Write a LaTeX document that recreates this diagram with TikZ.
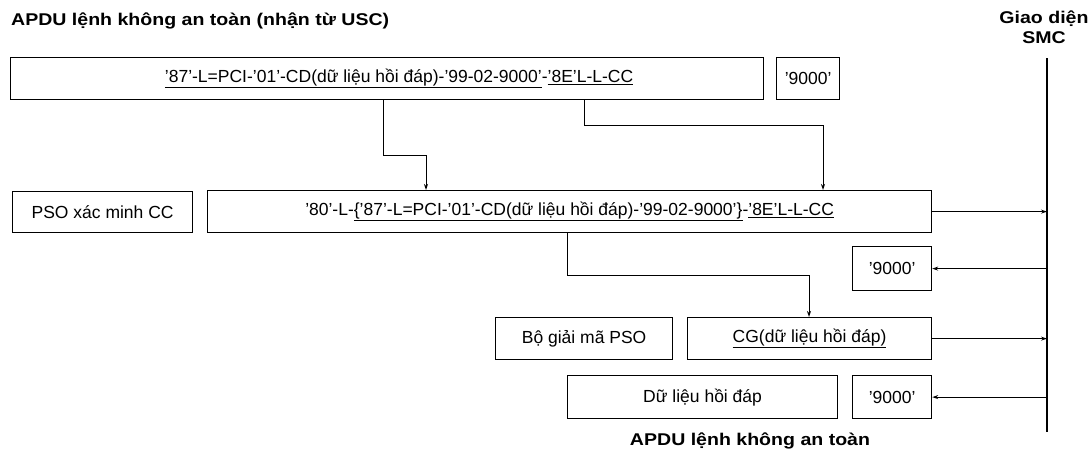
\documentclass[tikz,border=0pt]{standalone}
\usepackage{fontspec}
\setmainfont{Liberation Sans}
\newfontfamily\ttlfont[FakeStretch=1.15]{Liberation Sans}
\usetikzlibrary{arrows.meta}
\begin{document}
\begin{tikzpicture}[x=1pt,y=-1pt,
  box/.style={draw, line width=1.2pt, inner sep=0pt, anchor=north west, font=\fontsize{17.5}{20}\selectfont},
  arr/.style={line width=1pt, -{Stealth[length=6pt,width=4pt]}},
  ttl/.style={font=\ttlfont\bfseries\fontsize{17}{19}\selectfont, inner sep=0pt}]
\useasboundingbox (0,0) rectangle (1092,456);
\node[ttl, anchor=west] (t1) at (11,21) {APDU lệnh không an toàn (nhận từ USC)};
\node[ttl, align=center] (smc) at (1044,27) {Giao diện\\[1pt]SMC};
\coordinate (ltop) at (1047,58);
\coordinate (lbot) at (1047,432);
\draw[line width=1.8pt] (ltop) -- (lbot);
% row 1
\node[box, minimum width=753pt, minimum height=42pt] (b1) at (10,57)
  {\hspace*{24pt}\underline{'87'-L=PCI-'01'-CD(dữ liệu hồi đáp)-'99-02-9000'}-\underline{'8E'L-L-CC}};
\node[box, minimum width=63pt, minimum height=42pt] (n1) at (776,57) {'9000'};
% row 2
\node[box, minimum width=180pt, minimum height=41pt] (pso) at (12,191) {PSO xác minh CC};
\node[box, minimum width=724pt, minimum height=42pt] (b2) at (207,190)
  {'80'-L-\underline{\{'87'-L=PCI-'01'-CD(dữ liệu hồi đáp)-'99-02-9000'\}}-\underline{'8E'L-L-CC}};
\node[box, minimum width=79pt, minimum height=44pt] (n2) at (852,246) {'9000'};
% row 3
\node[box, minimum width=177pt, minimum height=42pt] (dec) at (495,317) {Bộ giải mã PSO};
\node[box, minimum width=244pt, minimum height=42pt] (cg) at (687,317) {\underline{CG(dữ liệu hồi đáp)}};
% row 4
\node[box, minimum width=270pt, minimum height=43pt] (dl) at (567,375) {Dữ liệu hồi đáp};
\node[box, minimum width=79pt, minimum height=43pt] (n3) at (852,375) {'9000'};
\node[ttl] (t2) at (750,441) {APDU lệnh không an toàn};
% connectors
\coordinate (e1) at (383,155); \coordinate (e2) at (426,155);
\draw[arr] (b1.south -| e1) -- (e1) -- (e2) -- (b2.north -| e2);
\coordinate (e3) at (584,125); \coordinate (e4) at (823,125);
\draw[arr] (b1.south -| e3) -- (e3) -- (e4) -- (b2.north -| e4);
\coordinate (e5) at (567,275); \coordinate (e6) at (809,275);
\draw[arr] (b2.south -| e5) -- (e5) -- (e6) -- (cg.north -| e6);
\draw[arr] (b2.east) -- (b2.east -| ltop);
\draw[arr] (n2.east -| ltop) -- (n2.east);
\draw[arr] (cg.east) -- (cg.east -| ltop);
\draw[arr] (n3.east -| ltop) -- (n3.east);
\end{tikzpicture}
\end{document}
